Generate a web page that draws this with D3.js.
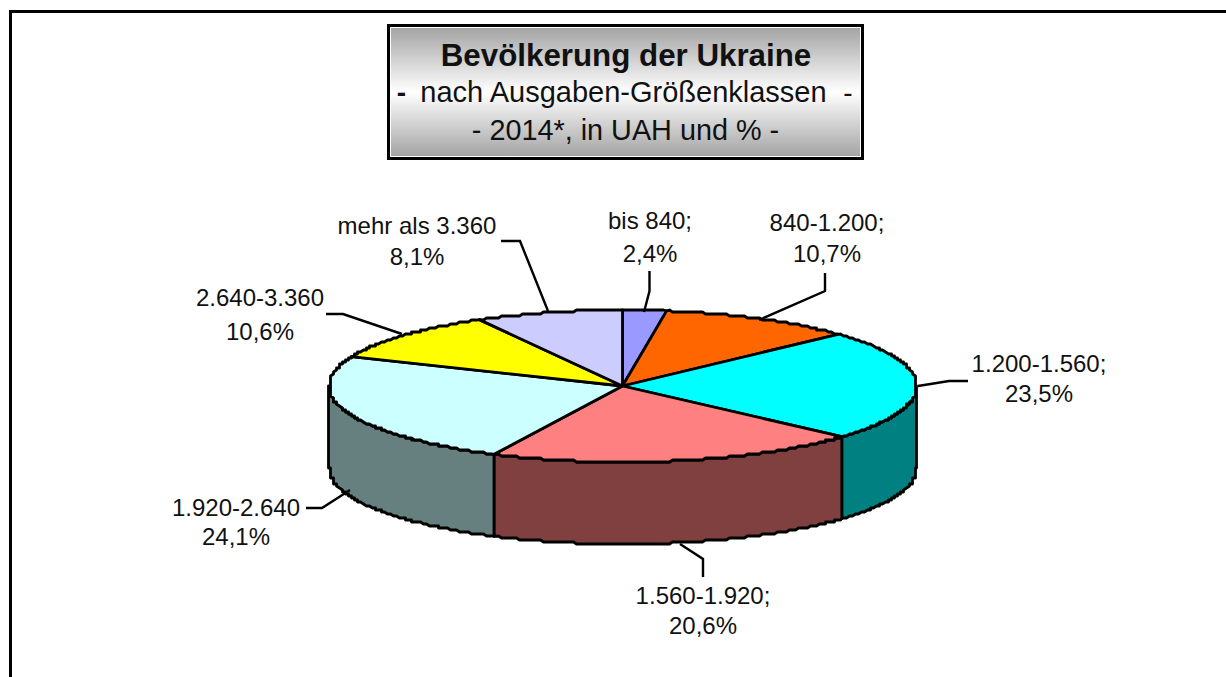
<!DOCTYPE html>
<html><head><meta charset="utf-8">
<script src="https://cdn.jsdelivr.net/npm/d3@7/dist/d3.min.js"></script>
<style>html,body{margin:0;padding:0;background:#fff;overflow:hidden}svg{display:block}text{font-family:"Liberation Sans",Arial,sans-serif;fill:#111}</style>
</head><body><svg id="c" width="1226" height="677"></svg>
<script>
const categories=["bis 840;","840-1.200;","1.200-1.560;","1.560-1.920;","1.920-2.640","2.640-3.360","mehr als 3.360"];
const values=[2.4,10.7,23.5,20.6,24.1,10.6,8.1];
const valueLabels=["2,4%","10,7%","23,5%","20,6%","24,1%","10,6%","8,1%"];
const topColors=["#9999ff","#ff6600","#00ffff","#ff8080","#ccffff","#ffff00","#ccccff"];
const sideColors=["#4d4d80","#803300","#008080","#804040","#668080","#808000","#666680"];
const titleLines=["Bevölkerung der Ukraine","nach Ausgaben-Größenklassen","- 2014*, in UAH und % -"];
// layout: label centre x, first and second line y, leader polyline
const labelLayout=[
 {x:650,y1:229,y2:262,leader:[[649.5,271],[649.5,291],[644,312]]},
 {x:827,y1:231,y2:262,leader:[[825,273],[825,291],[759,320]]},
 {x:1039,y1:372,y2:402,leader:[[968,381],[949,381],[918,386]]},
 {x:703,y1:604,y2:634,leader:[[703,577],[703,559],[680,544]]},
 {x:236,y1:516,y2:545,leader:[[306,508],[322,508],[350,490]]},
 {x:260,y1:306,y2:340,leader:[[326,314],[343,314],[402,334]]},
 {x:417,y1:234,y2:265,leader:[[501,241],[520,241],[548,311]]}
];
const cx=622.5,cy=386,rx=294,ry=76,depth=82,stepX=3,stepY=2;
const svg=d3.select("#c");
const defs=svg.append("defs");
const grad=defs.append("linearGradient").attr("id","g").attr("x1",0).attr("x2",0).attr("y1",0).attr("y2",1);
[[0,"#a4a4a4"],[0.5,"#ffffff"],[1,"#a4a4a4"]].forEach(s=>grad.append("stop").attr("offset",s[0]).attr("stop-color",s[1]));

// frame: only top and left edges are visible
svg.append("path").attr("d",d3.line()([[10.5,677],[10.5,11.5],[1226,11.5]])).attr("fill","none").attr("stroke","#000").attr("stroke-width",3);

// title box
svg.append("rect").attr("x",388.5).attr("y",25.5).attr("width",474).attr("height",133).attr("fill","#fff").attr("stroke","#000").attr("stroke-width",3);
svg.append("rect").attr("x",391).attr("y",28).attr("width",469).attr("height",128).attr("fill","url(#g)");
svg.append("text").attr("x",626).attr("y",66).attr("text-anchor","middle").attr("font-size",31.3).attr("font-weight","bold").text(titleLines[0]);
svg.append("text").attr("x",401.5).attr("y",102).attr("text-anchor","middle").attr("font-size",28).attr("font-weight","bold").text("-");
svg.append("text").attr("x",623.5).attr("y",102).attr("text-anchor","middle").attr("font-size",29).text(titleLines[1]);
svg.append("text").attr("x",848).attr("y",102).attr("text-anchor","middle").attr("font-size",28).text("-");
svg.append("text").attr("x",625.5).attr("y",140).attr("text-anchor","middle").attr("font-size",28.8).text(titleLines[2]);

// pie geometry
const arcs=d3.pie().sort(null).value(d=>d)(values);
const proj=(a,dy=0)=>[cx+rx*Math.sin(a),cy-ry*Math.cos(a)+dy];
const snap=p=>[Math.round(p[0]/stepX)*stepX+0.5,Math.round((p[1]-cy)/stepY)*stepY+cy];
function edge(a0,a1,dy=0){
  const n=Math.max(2,Math.ceil((a1-a0)*90)),pts=[proj(a0,dy)];
  for(let i=1;i<n;i++){
    const p=snap(proj(a0+(a1-a0)*i/n));
    pts.push([p[0],p[1]+dy]);
  }
  pts.push(proj(a1,dy));
  return pts.filter((p,i)=>i===0||p[0]!==pts[i-1][0]||p[1]!==pts[i-1][1]);
}
const line=d3.line();
const g=svg.append("g");
// walls on the visible front half
const HALF=Math.PI/2,TH=3*Math.PI/2;
arcs.map((d,i)=>({d,i,a0:Math.max(d.startAngle,HALF),a1:Math.min(d.endAngle,TH)}))
 .filter(w=>w.a1>w.a0)
 .forEach(w=>{
   const pts=edge(w.a0,w.a1).concat(edge(w.a0,w.a1,depth).reverse());
   g.append("path").attr("d",line(pts)+"Z").attr("fill",sideColors[w.i]).attr("stroke","#000").attr("stroke-width",2.8).attr("stroke-linejoin","round");
 });
// top faces
arcs.forEach((d,i)=>{
  const pts=[[cx,cy]].concat(edge(d.startAngle,d.endAngle));
  g.append("path").attr("d",line(pts)+"Z").attr("fill",topColors[i]).attr("stroke","#000").attr("stroke-width",2.8).attr("stroke-linejoin","round");
});
// leaders and labels
labelLayout.forEach((l,i)=>{
  svg.append("path").attr("d",line(l.leader)).attr("fill","none").attr("stroke","#000").attr("stroke-width",2.4);
  svg.append("text").attr("x",l.x).attr("y",l.y1).attr("text-anchor","middle").attr("font-size",24).text(categories[i]);
  svg.append("text").attr("x",l.x).attr("y",l.y2).attr("text-anchor","middle").attr("font-size",24).text(valueLabels[i]);
});
</script></body></html>
